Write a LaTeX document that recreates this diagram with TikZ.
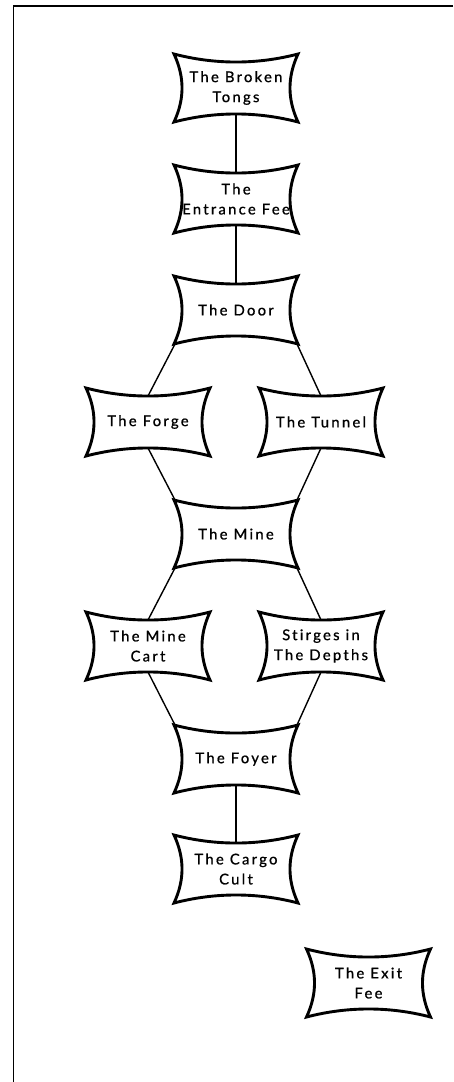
\documentclass[tikz,border=0pt]{standalone}
\usepackage{fontspec}
\setmainfont{Lato}[LetterSpace=15.5, Ligatures=NoCommon, FakeBold=0.9]
\tikzset{
  shp/.style={line width=2.9pt, line join=miter, draw=black},
  txt/.style={align=center, inner sep=0pt, font=\fontsize{14.8}{20}\selectfont, text=black},
  conn/.style={line width=1.4pt, draw=black},
  frame/.style={line width=1.8pt, draw=black}
}
\newcommand\bownode[3]{%
  \begin{scope}[shift={(#2)}]
    \draw[shp] (-62,-34) .. controls (-21,-23.3) and (21,-23.3) .. (62,-34)
      .. controls (51.3,-11) and (51.3,11) .. (62,34)
      .. controls (21,23.3) and (-21,23.3) .. (-62,34)
      .. controls (-51.3,11) and (-51.3,-11) .. cycle;
    \node[txt] (#1) at (0,0) {#3};
    \coordinate (#1-t) at (0,-26);
    \coordinate (#1-b) at (0,26);
    \coordinate (#1-tl) at (-61,-34);
    \coordinate (#1-tr) at (61,-34);
    \coordinate (#1-bl) at (-61,34);
    \coordinate (#1-br) at (61,34);
  \end{scope}}
\begin{document}
\begin{tikzpicture}[x=1pt, y=-1pt]
\useasboundingbox (0,0) rectangle (453,1082);
\draw[frame] (453,6) -- (13.5,6) -- (13.5,1082);
\bownode{tongs}{236,88}{The Broken\\Tongs}
\bownode{fee}{236,199}{The\\Entrance Fee}
\bownode{door}{236,310}{The Door}
\bownode{forge}{148,422}{The Forge}
\bownode{tunnel}{321,422}{The Tunnel}
\bownode{mine}{236,534}{The Mine}
\bownode{cart}{148,646}{The Mine\\Cart}
\bownode{stirges}{321,646}{Stirges in\\The Depths}
\bownode{foyer}{236,759}{The Foyer}
\bownode{cargo}{236,869}{The Cargo\\Cult}
\bownode{exit}{368.5,983}{The Exit\\Fee}
\draw[conn] (tongs-b) -- (fee-t);
\draw[conn] (fee-b) -- (door-t);
\draw[conn] (door-bl) -- (forge-t);
\draw[conn] (door-br) -- (tunnel-t);
\draw[conn] (forge-b) -- (mine-tl);
\draw[conn] (tunnel-b) -- (mine-tr);
\draw[conn] (mine-bl) -- (cart-t);
\draw[conn] (mine-br) -- (stirges-t);
\draw[conn] (cart-b) -- (foyer-tl);
\draw[conn] (stirges-b) -- (foyer-tr);
\draw[conn] (foyer-b) -- (cargo-t);
\end{tikzpicture}
\end{document}
